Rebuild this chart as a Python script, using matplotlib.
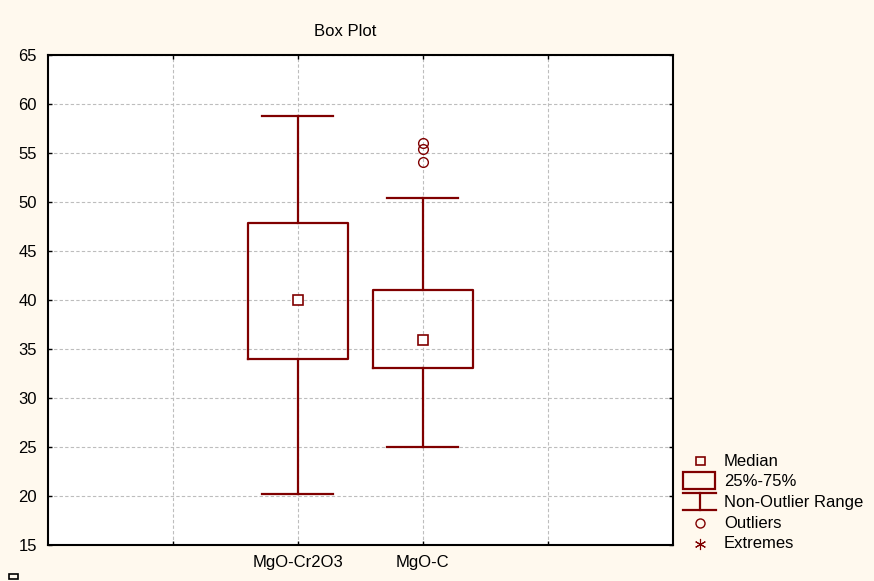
import numpy as np
import matplotlib.pyplot as plt
import matplotlib as mpl
from matplotlib.patches import Rectangle
from matplotlib.lines import Line2D

mpl.rc('font', family=['Liberation Sans', 'DejaVu Sans'])

# box plot summary values per group
groups = ["MgO-Cr2O3", "MgO-C"]
positions = [1, 2]
medians = [40.0, 35.9]
q1 = [34.0, 33.1]
q3 = [47.9, 41.0]
whislo = [20.2, 25.0]
whishi = [58.8, 50.4]
outliers = [[], [56.0, 55.4, 54.1]]

yticks = np.arange(15, 70, 5)
xgrid = [0, 1, 2, 3]

dark_red = "#800000"
bg = "#fff9ee"
fs = 12

fig = plt.figure(figsize=(8.74, 5.81), dpi=100, facecolor=bg)
ax = fig.add_axes([48/874, 1 - 545/581, 624.5/874, 490/581])
ax.set_facecolor("white")

stats = []
for i in range(len(groups)):
    stats.append(dict(med=medians[i], q1=q1[i], q3=q3[i],
                      whislo=whislo[i], whishi=whishi[i], fliers=[]))

ax.bxp(stats, positions=positions, widths=0.8, capwidths=0.57,
       showfliers=False,
       boxprops=dict(color=dark_red, lw=1.6),
       whiskerprops=dict(color=dark_red, lw=1.6),
       capprops=dict(color=dark_red, lw=1.6),
       medianprops=dict(linestyle="none"), zorder=3)

# median squares
ax.plot(positions, medians, ls="none", marker="s", ms=7, mfc="white",
        mec=dark_red, mew=1.2, zorder=4)

# outliers
for p, vals in zip(positions, outliers):
    ax.plot([p] * len(vals), vals, ls="none", marker="o", ms=7, mfc="none",
            mec=dark_red, mew=1.0, zorder=4)

ax.set_xlim(-1, 4)
ax.set_ylim(15, 65)
ax.set_yticks(yticks)
ax.set_xticks(xgrid)
ax.set_xticklabels(["", groups[0], groups[1], ""])
ax.tick_params(direction="in", length=3, width=1, top=True, right=True,
               labelsize=fs, colors="black", pad=8)
ax.tick_params(axis="x", pad=7)
ax.grid(True, color="#bdbdbd", ls=(0, (3, 2)), lw=0.8, zorder=0)
for s in ax.spines.values():
    s.set_linewidth(1.5)

fig.text(345/874, 1 - 31/581, "Box Plot", ha="center", va="center", fontsize=fs)

# legend drawn in figure pixel coords
leg = fig.add_axes([0, 0, 1, 1], facecolor="none")
leg.set_xlim(0, 874)
leg.set_ylim(581, 0)
leg.axis("off")
cx = 700
leg.add_patch(Rectangle((696, 457), 9, 8, fill=False, ec=dark_red, lw=1.2))
leg.add_patch(Rectangle((683, 472), 32, 17, fill=False, ec=dark_red, lw=1.6))
leg.add_line(Line2D([683, 716], [493, 493], color=dark_red, lw=1.6))
leg.add_line(Line2D([683, 716], [510, 510], color=dark_red, lw=1.6))
leg.add_line(Line2D([cx, cx], [493, 510], color=dark_red, lw=1.6))
leg.plot([cx], [523], ls="none", marker="o", ms=6.5, mfc="none", mec=dark_red, mew=1.0)
leg.plot([cx], [544], ls="none", marker=(6, 2, 0), ms=8, mec=dark_red, mew=0.8)
labels = ["Median", "25%-75%", "Non-Outlier Range", "Outliers", "Extremes"]
ys = [462, 482, 502, 523, 544]
for t, y in zip(labels, ys):
    leg.text(724, y, t, ha="left", va="center", fontsize=fs)

# small marker in the lower-left corner
leg.add_patch(Rectangle((9, 574), 9, 5, fill=False, ec="black", lw=1.2))

fig.savefig("out.png", dpi=100, facecolor=bg)
